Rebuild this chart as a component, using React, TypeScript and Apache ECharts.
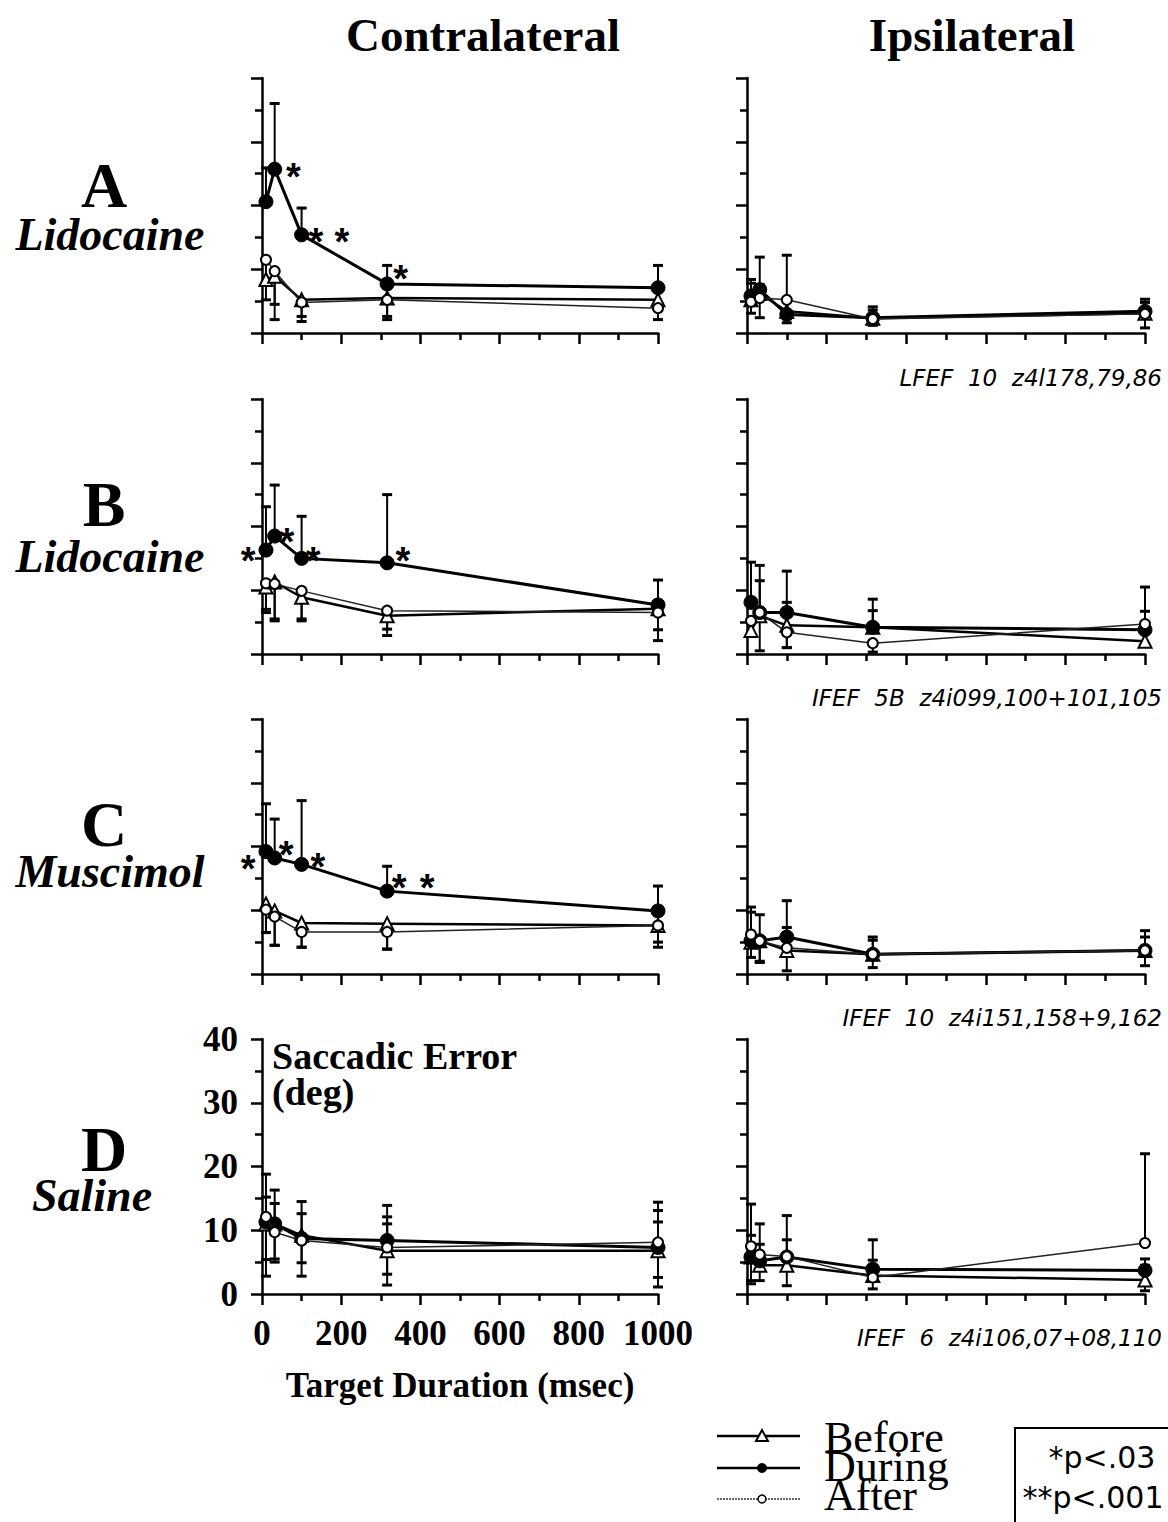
import React, { useEffect, useRef } from "react";
import * as echarts from "echarts";

// Target durations (msec)
const durations = [10, 32, 100, 316, 1000];

// Each entry: [mean saccadic error, upper bar end, lower bar end] (deg), null = no bar
const aContraBefore = [[8.4, null, 5.2], [8.9, null, 4.5], [5.2, null, 2.6], [5.5, null, 2.6], [5.2, null, 3.9]];
const aContraDuring = [[20.6, 25.9, null], [25.7, 36.0, null], [15.4, 19.6, null], [7.7, 10.6, null], [7.1, 10.6, null]];
const aContraAfter = [[11.5, null, 7.5], [9.7, null, 2.1], [4.8, null, 1.8], [5.2, null, 2.1], [3.9, null, 2.1]];

const aIpsiBefore = [[5.2, null, 3.1], [6.2, null, 2.4], [3.4, null, 1.6], [2.3, null, 1.2], [3.1, null, 0.8]];
const aIpsiDuring = [[5.8, 8.4, null], [6.8, 7.6, null], [2.9, null, null], [2.4, 4.1, null], [3.4, 5.3, null]];
const aIpsiAfter = [[4.9, 7.8, null], [5.5, 11.9, null], [5.2, 12.2, null], [2.2, 3.6, null], [3.0, 4.8, null]];

const bContraBefore = [[10.5, null, 6.5], [11.3, null, 5.2], [8.9, null, 5.2], [6.0, null, 2.9], [7.1, null, 2.1]];
const bContraDuring = [[16.3, 23.1, null], [18.5, 26.5, null], [15.0, 21.6, null], [14.3, 25.0, null], [7.7, 11.6, null]];
const bContraAfter = [[11.1, null, 7.0], [11.0, null, 5.5], [9.9, null, 5.5], [6.8, null, 3.9], [6.5, null, 3.8]];

const bIpsiBefore = [[3.7, null, 2.9], [6.0, null, 0.5], [4.5, null, 1.0], [4.2, 6.8, null], [2.0, null, 1.2]];
const bIpsiDuring = [[8.1, 14.4, null], [6.5, 13.9, null], [6.5, 13.0, null], [4.2, 8.6, null], [3.8, 6.7, null]];
const bIpsiAfter = [[5.2, null, 2.9], [6.5, 11.5, null], [3.4, 8.1, 1.0], [1.7, null, 0.3], [4.7, 10.5, null]];

const cContraBefore = [[11.0, null, 6.5], [9.9, null, 4.5], [8.0, null, 4.2], [7.9, null, 3.9], [7.6, null, 4.2]];
const cContraDuring = [[19.2, 26.7, null], [18.2, 24.3, null], [17.2, 27.2, null], [13.0, 16.9, null], [9.9, 13.8, null]];
const cContraAfter = [[10.1, null, 6.5], [9.0, null, 4.5], [6.6, null, 4.2], [6.6, null, 3.9], [7.6, null, 5.0]];

const cIpsiBefore = [[5.0, null, 2.6], [5.2, null, 1.8], [3.7, null, 0.5], [3.1, null, 1.0], [3.7, null, 1.3]];
const cIpsiDuring = [[5.2, 10.5, null], [5.2, 9.3, null], [5.8, 11.5, null], [3.1, 5.8, null], [3.7, 6.8, null]];
const cIpsiAfter = [[6.2, 9.7, null], [5.2, null, 2.0], [4.1, 7.3, null], [3.1, 5.3, null], [3.7, 5.8, null]];

const dContraBefore = [[11.0, 15.2, 2.8], [11.0, 14.2, 5.0], [9.2, 14.5, 2.8], [6.8, 11.0, 1.4], [6.8, 11.3, 1.1]];
const dContraDuring = [[11.3, 18.8, 5.4], [11.0, 16.3, 5.5], [8.7, 12.6, 4.9], [8.4, 13.9, 3.1], [7.3, 14.4, 2.6]];
const dContraAfter = [[12.1, null, null], [9.7, null, null], [8.4, null, null], [7.3, 12.1, null], [8.1, 13.1, null]];

const dIpsiBefore = [[5.8, 9.2, 2.1], [4.5, 7.8, 2.1], [4.5, 8.5, 1.3], [2.9, 5.3, 0.8], [2.2, 4.5, 0.5]];
const dIpsiDuring = [[5.8, null, 1.6], [5.2, 11.0, null], [5.8, 12.3, null], [3.9, 8.5, null], [3.7, 5.5, null]];
const dIpsiAfter = [[7.5, 14.1, null], [6.2, null, null], [5.9, null, null], [2.6, null, null], [8.0, 22.0, null]];

// Significance stars: [duration, error, text]
const aContraStars = [[79, 25.6, "*"], [136, 15.4, "*"], [202, 15.4, "*"], [350, 9.6, "*"]];
const bContraStars = [[-35, 15.8, "*"], [63, 18.8, "*"], [129, 15.8, "*"], [356, 15.7, "*"]];
const cContraStars = [[-35, 17.7, "*"], [61, 19.8, "*"], [141, 17.9, "*"], [346, 14.6, "*"], [417, 14.6, "*"]];

const yTicks = [0, 10, 20, 30, 40];
const xTicks = [0, 200, 400, 600, 800, 1000];

const conditionNames = ["Before", "During", "After"];
const columnTitles = ["Contralateral", "Ipsilateral"];
const rowLetters = ["A", "B", "C", "D"];
const rowDrugs = ["Lidocaine", "Lidocaine", "Muscimol", "Saline"];
const runNotes = [
  "LFEF  10  z4l178,79,86",
  "IFEF  5B  z4i099,100+101,105",
  "IFEF  10  z4i151,158+9,162",
  "IFEF  6  z4i106,07+08,110",
];

const panels = [
  [aContraBefore, aContraDuring, aContraAfter],
  [aIpsiBefore, aIpsiDuring, aIpsiAfter],
  [bContraBefore, bContraDuring, bContraAfter],
  [bIpsiBefore, bIpsiDuring, bIpsiAfter],
  [cContraBefore, cContraDuring, cContraAfter],
  [cIpsiBefore, cIpsiDuring, cIpsiAfter],
  [dContraBefore, dContraDuring, dContraAfter],
  [dIpsiBefore, dIpsiDuring, dIpsiAfter],
];
const starSets: [number, any[]][] = [[0, aContraStars], [2, bContraStars], [4, cContraStars]];

const SERIF = "'Liberation Serif', 'Times New Roman', serif";
const SANS = "'DejaVu Sans', sans-serif";
const STAR_FONT = "'Liberation Sans', Arial, sans-serif";

const GRID_LEFT = [262, 747];
const GRID_W = [396, 398];
const GRID_TOP = [78, 399, 719, 1039];
const GRID_H = 255;

const markerStyles = [
  { symbol: "triangle", symbolSize: 13, itemStyle: { color: "#fff", borderColor: "#000", borderWidth: 2 }, lineStyle: { color: "#000", width: 2.5 } },
  { symbol: "circle", symbolSize: 14, itemStyle: { color: "#000", borderColor: "#000", borderWidth: 1 }, lineStyle: { color: "#000", width: 3 } },
  { symbol: "circle", symbolSize: 10, itemStyle: { color: "#fff", borderColor: "#000", borderWidth: 2 }, lineStyle: { color: "#222", width: 1.5 } },
];

function renderErr(params: any, api: any) {
  const x = api.value(0);
  const v = api.value(1);
  const ends = [api.value(2), api.value(3)];
  const base = api.coord([x, v]);
  const children: any[] = [];
  for (const e of ends) {
    if (e === v) continue;
    const p = api.coord([x, e]);
    children.push({ type: "line", shape: { x1: base[0], y1: base[1], x2: p[0], y2: p[1] }, style: { stroke: "#000", lineWidth: 2 } });
    children.push({ type: "line", shape: { x1: p[0] - 5, y1: p[1], x2: p[0] + 5, y2: p[1] }, style: { stroke: "#000", lineWidth: 3 } });
  }
  return { type: "group", children };
}

export default function App() {
  const ref = useRef<HTMLDivElement>(null);
  useEffect(() => {
    document.body.style.margin = "0";
    const chart = echarts.init(ref.current!, null, { renderer: "svg" });

    const grids: any[] = [];
    const xAxes: any[] = [];
    const yAxes: any[] = [];
    const series: any[] = [];

    panels.forEach((panel, i) => {
      const row = Math.floor(i / 2);
      const col = i % 2;
      const labelled = i === 6;
      grids.push({ left: GRID_LEFT[col], top: GRID_TOP[row], width: GRID_W[col], height: GRID_H });
      xAxes.push({
        type: "value", gridIndex: i, min: 0, max: 1000, interval: 200,
        splitLine: { show: false },
        axisLine: { show: true, onZero: false, lineStyle: { color: "#000", width: 2.5 } },
        axisTick: { show: true, length: 11, lineStyle: { color: "#000", width: 2.5 } },
        minorTick: { show: true, splitNumber: 2, length: 7, lineStyle: { color: "#000", width: 2.5 } },
        axisLabel: {
          show: labelled, margin: 22, color: "#000", fontFamily: SERIF, fontWeight: "bold", fontSize: 35,
          formatter: (val: number) => (xTicks.includes(val) ? String(val) : ""),
        },
        name: labelled ? "Target Duration (msec)" : "",
        nameLocation: "middle", nameGap: 74,
        nameTextStyle: { color: "#000", fontFamily: SERIF, fontWeight: "bold", fontSize: 35 },
      });
      yAxes.push({
        type: "value", gridIndex: i, min: 0, max: 40, interval: 10,
        splitLine: { show: false },
        axisLine: { show: true, onZero: false, lineStyle: { color: "#000", width: 2.5 } },
        axisTick: { show: true, length: 11, lineStyle: { color: "#000", width: 2.5 } },
        minorTick: { show: true, splitNumber: 2, length: 7, lineStyle: { color: "#000", width: 2.5 } },
        axisLabel: {
          show: labelled, margin: 24, color: "#000", fontFamily: SERIF, fontWeight: "bold", fontSize: 35,
          formatter: (val: number) => (yTicks.includes(val) ? String(val) : ""),
        },
      });

      panel.forEach((cond, c) => {
        series.push({
          type: "custom", xAxisIndex: i, yAxisIndex: i, z: 1, silent: true, clip: false,
          renderItem: renderErr,
          encode: { x: 0, y: [1, 2, 3] },
          data: durations.map((d, k) => [d, cond[k][0], cond[k][1] ?? cond[k][0], cond[k][2] ?? cond[k][0]]),
        });
        series.push({
          type: "line", name: conditionNames[c], xAxisIndex: i, yAxisIndex: i, z: 3 + c, silent: true,
          showSymbol: true, showAllSymbol: true,
          ...markerStyles[c],
          data: durations.map((d, k) => [d, cond[k][0]]),
        });
      });
    });

    starSets.forEach(([gi, stars]) => {
      series.push({
        type: "scatter", xAxisIndex: gi, yAxisIndex: gi, z: 10, silent: true, clip: false,
        symbolSize: 1, itemStyle: { color: "rgba(0,0,0,0)" },
        label: {
          show: true, position: "top", distance: 0, formatter: "{b}", color: "#000", opacity: 1,
          fontFamily: STAR_FONT, fontWeight: "bold", fontSize: 38, textBorderWidth: 0, offset: [0, 27],
        },
        data: stars.map((s: any) => ({ value: [s[0], s[1]], name: s[2] })),
      });
    });

    const graphics: any[] = [];
    const txt = (text: string, x: number, y: number, font: string, align = "center", vAlign = "middle", lh?: number) => ({
      type: "text", silent: true,
      style: { text, x, y, font, fill: "#000", textAlign: align, textVerticalAlign: vAlign, lineHeight: lh },
    });
    graphics.push(txt(columnTitles[0], 483, 35, `bold 47px ${SERIF}`));
    graphics.push(txt(columnTitles[1], 972, 35, `bold 47px ${SERIF}`));
    const letterY = [185, 504, 824, 1149];
    const drugY = [234, 556, 871, 1195];
    const drugX = [110, 110, 110, 92];
    rowLetters.forEach((l, r) => {
      graphics.push(txt(l, 104, letterY[r], `bold 64px ${SERIF}`, "center", "middle", 44));
      graphics.push(txt(rowDrugs[r], drugX[r], drugY[r], `italic bold 46px ${SERIF}`, "center", "middle", 34));
    });
    const noteY = [378, 698, 1018, 1338];
    runNotes.forEach((n, r) => graphics.push(txt(n, 1162, noteY[r], `italic 23px ${SANS}`, "right")));
    graphics.push(txt("Saccadic Error", 272, 1056, `bold 38px ${SERIF}`, "left", "middle", 34));
    graphics.push(txt("(deg)", 272, 1092, `bold 38px ${SERIF}`, "left", "middle", 34));

    // legend
    const legY = [1436, 1468, 1499];
    legY.forEach((y, c) => {
      graphics.push({ type: "line", silent: true, shape: { x1: 717, y1: y, x2: 800, y2: y },
        style: { stroke: c === 2 ? "#333" : "#000", lineWidth: c === 2 ? 1.5 : 2.5, lineDash: c === 2 ? [2, 1] : null } });
    });
    graphics.push({ type: "polygon", silent: true, shape: { points: [[762, 1430], [756, 1441], [768, 1441]] }, style: { fill: "#fff", stroke: "#000", lineWidth: 2 } });
    graphics.push({ type: "circle", silent: true, shape: { cx: 762, cy: 1468, r: 5 }, style: { fill: "#000" } });
    graphics.push({ type: "circle", silent: true, shape: { cx: 762, cy: 1499, r: 4 }, style: { fill: "#fff", stroke: "#000", lineWidth: 1.5 } });
    conditionNames.forEach((n, c) => graphics.push(txt(n, 824, [1437, 1466, 1495][c], `44px ${SERIF}`, "left", "middle", 29)));
    graphics.push({ type: "polyline", silent: true, shape: { points: [[1015, 1522], [1015, 1428], [1168, 1428]] }, style: { stroke: "#000", lineWidth: 2, fill: null } });
    graphics.push(txt("*p<.03", 1102, 1457, `30px ${SANS}`));
    graphics.push(txt("**p<.001", 1093, 1497, `30px ${SANS}`));

    chart.setOption({
      animation: false,
      backgroundColor: "#fff",
      grid: grids,
      xAxis: xAxes,
      yAxis: yAxes,
      series,
      graphic: graphics,
    });
    return () => chart.dispose();
  }, []);
  return <div ref={ref} style={{ width: 1168, height: 1522 }} />;
}
